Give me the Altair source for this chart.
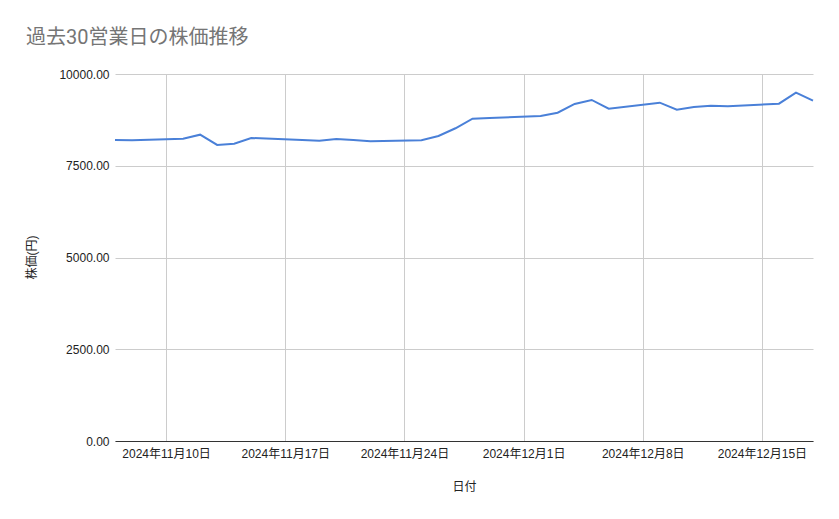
import altair as alt
import pandas as pd

# 30 business days
dates = [
    "2024-11-07", "2024-11-08",
    "2024-11-11", "2024-11-12", "2024-11-13", "2024-11-14", "2024-11-15",
    "2024-11-18", "2024-11-19", "2024-11-20", "2024-11-21", "2024-11-22",
    "2024-11-25", "2024-11-26", "2024-11-27", "2024-11-28", "2024-11-29",
    "2024-12-02", "2024-12-03", "2024-12-04", "2024-12-05", "2024-12-06",
    "2024-12-09", "2024-12-10", "2024-12-11", "2024-12-12", "2024-12-13",
    "2024-12-16", "2024-12-17", "2024-12-18",
]
prices = [
    8202, 8194,
    8238, 8347, 8066, 8101, 8257,
    8202, 8183, 8230, 8202, 8167,
    8194, 8311, 8521, 8783, 8802,
    8856, 8946, 9183, 9292, 9055,
    9219, 9028, 9102, 9137, 9121,
    9191, 9491, 9273,
]
tick_dates = [(2024, 11, 10), (2024, 11, 17), (2024, 11, 24),
              (2024, 12, 1), (2024, 12, 8), (2024, 12, 15)]
y_ticks = [0, 2500, 5000, 7500, 10000]

df = pd.DataFrame({"日付": dates, "株価": prices})

def utc_day(y, m, d):
    return alt.DateTime(year=y, month=m, date=d, utc=True)

label_font = "Liberation Sans, 'Noto Sans CJK JP', sans-serif"

chart = alt.Chart(df).mark_line(color="#4a80d8", strokeWidth=2).encode(
    x=alt.X(
        "日付:T",
        scale=alt.Scale(type="utc", domain=[utc_day(2024, 11, 7), utc_day(2024, 12, 18)]),
        axis=alt.Axis(
            title="日付",
            values=[utc_day(*t) for t in tick_dates],
            labelExpr="utcFormat(datum.value, '%Y年%-m月%-d日')",
            ticks=False,
            labelPadding=7,
            domainColor="#333333",
            gridColor="#cccccc",
            titleY=45,
            titleBaseline="middle",
        ),
    ),
    y=alt.Y(
        "株価:Q",
        scale=alt.Scale(domain=[0, 10000], nice=False),
        axis=alt.Axis(
            title="株価(円)",
            values=y_ticks,
            format=".2f",
            ticks=False,
            domain=False,
            labelPadding=6,
            gridColor="#cccccc",
            titleX=-84,
            titleY=183,
            titleAngle=-90,
            titleAlign="center",
            titleBaseline="middle",
        ),
    ),
).properties(
    width=698,
    height=367,
    autosize=alt.AutoSizeParams(type="none"),
    padding={"left": 107, "top": 66, "right": 17, "bottom": 60},
    title=alt.TitleParams(
        "過去30営業日の株価推移",
        anchor="start",
        frame="group",
        dx=-89,
        baseline="alphabetic",
        offset=4,
        fontSize=20,
        fontWeight="normal",
        color="#757575",
        font="Roboto, 'Noto Sans CJK JP', sans-serif",
    ),
).configure_axis(
    labelFont=label_font,
    labelFontSize=12,
    labelColor="#222222",
    titleFont=label_font,
    titleFontSize=12,
    titleFontWeight="normal",
    titleColor="#222222",
).configure_view(stroke=None)

chart.save("out.html", embed_options={"renderer": "svg", "actions": False})
